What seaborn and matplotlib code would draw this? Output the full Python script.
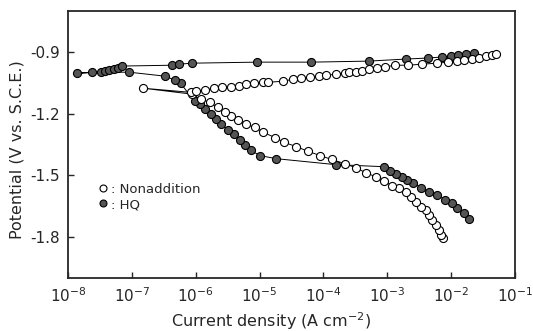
import numpy as np
import pandas as pd
import matplotlib
matplotlib.use("Agg")
import matplotlib.pyplot as plt
from matplotlib.lines import Line2D
from matplotlib.ticker import FixedLocator, FixedFormatter, NullLocator
import seaborn as sns

# ---- data ----
# Nonaddition: starting point, then cathodic and anodic branches outward from it
open_start_i = [1.5e-7]
open_start_E = [-1.076]
open_cath_i = [8.9e-7, 1.2e-6, 1.66e-6, 2.22e-6, 2.86e-6, 3.56e-6, 4.6e-6, 6.1e-6, 8.5e-6,
               1.14e-5, 1.75e-5, 2.43e-5, 3.76e-5, 5.8e-5, 8.97e-5, 1.34e-4, 2.14e-4, 3.2e-4,
               4.58e-4, 6.6e-4, 8.8e-4, 1.18e-3, 1.52e-3, 1.95e-3, 2.34e-3, 2.81e-3, 3.37e-3,
               4.04e-3, 4.5e-3, 5.0e-3, 5.8e-3, 6.5e-3, 7.0e-3, 7.5e-3]
open_cath_E = [-1.105, -1.130, -1.145, -1.169, -1.194, -1.213, -1.233, -1.252, -1.267,
               -1.291, -1.316, -1.340, -1.360, -1.384, -1.404, -1.423, -1.443, -1.463,
               -1.487, -1.507, -1.526, -1.551, -1.560, -1.580, -1.604, -1.629, -1.653,
               -1.668, -1.693, -1.717, -1.741, -1.766, -1.790, -1.805]
open_anod_i = [8.3e-7, 1.0e-6, 1.39e-6, 1.92e-6, 2.57e-6, 3.56e-6, 4.75e-6, 6.1e-6, 8.2e-6,
               1.14e-5, 1.36e-5, 2.34e-5, 3.37e-5, 4.5e-5, 6.2e-5, 8.65e-5, 1.11e-4, 1.55e-4,
               2.14e-4, 2.48e-4, 3.2e-4, 3.96e-4, 5.1e-4, 6.8e-4, 9.1e-4, 1.31e-3, 2.1e-3,
               3.5e-3, 6.0e-3, 9.0e-3, 1.24e-2, 1.6e-2, 2.14e-2, 2.76e-2, 3.56e-2, 4.4e-2, 5.1e-2]
open_anod_E = [-1.096, -1.091, -1.086, -1.076, -1.071, -1.071, -1.066, -1.057, -1.052,
               -1.047, -1.047, -1.042, -1.032, -1.027, -1.022, -1.017, -1.013, -1.008,
               -1.003, -0.998, -0.998, -0.993, -0.983, -0.978, -0.973, -0.964, -0.964,
               -0.959, -0.954, -0.949, -0.944, -0.939, -0.934, -0.929, -0.920, -0.915, -0.910]

# HQ: lower (cathodic) branch from the leftmost point, then upper (anodic) branch
hq_low_i = [1.39e-8, 2.4e-8, 9.1e-8, 3.25e-7, 4.8e-7, 5.8e-7, 9.6e-7, 1.16e-6, 1.39e-6,
            1.72e-6, 2.07e-6, 2.48e-6, 3.2e-6, 3.96e-6, 4.9e-6, 5.9e-6, 7.3e-6, 1.02e-5,
            1.82e-5, 1.55e-4, 8.8e-4, 1.09e-3, 1.36e-3, 1.69e-3, 2.03e-3, 2.52e-3, 3.37e-3,
            4.5e-3, 6.0e-3, 8.05e-3, 1.04e-2, 1.24e-2, 1.6e-2, 1.92e-2]
hq_low_E = [-1.003, -0.998, -0.998, -1.017, -1.037, -1.052, -1.140, -1.154, -1.179,
            -1.203, -1.228, -1.252, -1.277, -1.301, -1.326, -1.350, -1.379, -1.404,
            -1.419, -1.448, -1.458, -1.477, -1.492, -1.507, -1.521, -1.536, -1.560,
            -1.580, -1.595, -1.619, -1.634, -1.658, -1.683, -1.712]
hq_up_i = [3.3e-8, 3.8e-8, 4.4e-8, 5.3e-8, 6.1e-8, 7.1e-8, 4.3e-7, 5.4e-7, 8.9e-7, 9.1e-6,
           6.5e-5, 5.1e-4, 1.95e-3, 4.3e-3, 7.2e-3, 1.0e-2, 1.29e-2, 1.72e-2, 2.3e-2]
hq_up_E = [-0.998, -0.993, -0.988, -0.983, -0.978, -0.968, -0.964, -0.959, -0.954, -0.949,
           -0.949, -0.944, -0.934, -0.929, -0.924, -0.920, -0.915, -0.910, -0.905]

yticks = [-0.9, -1.2, -1.5, -1.8]
ytick_labels = ["-0.9", "-1.2", "-1.5", "-1.8"]
xticks = [1e-8, 1e-7, 1e-6, 1e-5, 1e-4, 1e-3, 1e-2, 1e-1]
xtick_labels = [r"$10^{-8}$", r"$10^{-7}$", r"$10^{-6}$", r"$10^{-5}$",
                r"$10^{-4}$", r"$10^{-3}$", r"$10^{-2}$", r"$10^{-1}$"]

# ---- build ordered paths ----
open_df = pd.DataFrame({
    "i": list(reversed(open_cath_i)) + open_start_i + open_anod_i,
    "E": list(reversed(open_cath_E)) + open_start_E + open_anod_E,
})
hq_df = pd.DataFrame({
    "i": list(reversed(hq_low_i)) + hq_up_i,
    "E": list(reversed(hq_low_E)) + hq_up_E,
})

sns.set_style("ticks")
plt.rcParams["font.family"] = ["DejaVu Sans"]

fig = plt.figure(figsize=(5.33, 3.31), dpi=100)
ax = fig.add_axes([68 / 533, 1 - 278 / 331, (515 - 68) / 533, (278 - 11) / 331])

ms = 5.8
sns.lineplot(data=hq_df, x="i", y="E", sort=False, estimator=None, ax=ax,
             color="black", linewidth=0.7, marker="o", markersize=ms,
             markerfacecolor="#555555", markeredgecolor="black", markeredgewidth=0.8)
sns.lineplot(data=open_df, x="i", y="E", sort=False, estimator=None, ax=ax,
             color="black", linewidth=0.7, marker="o", markersize=ms,
             markerfacecolor="white", markeredgecolor="black", markeredgewidth=0.8)

ax.set_xscale("log")
ax.set_xlim(1e-8, 1e-1)
ax.set_ylim(-2.0, -0.7)
ax.xaxis.set_major_locator(FixedLocator(xticks))
ax.xaxis.set_major_formatter(FixedFormatter(xtick_labels))
ax.xaxis.set_minor_locator(NullLocator())
ax.yaxis.set_major_locator(FixedLocator(yticks))
ax.yaxis.set_major_formatter(FixedFormatter(ytick_labels))
ax.tick_params(direction="in", length=4, width=1.0, labelsize=11, pad=6)
for s in ax.spines.values():
    s.set_linewidth(1.3)

ax.set_xlabel("Current density (A cm$^{-2}$)", fontsize=11.5)
ax.set_ylabel("Potential (V vs. S.C.E.)", fontsize=11.5)
ax.xaxis.set_label_coords(0.455, -0.12)
ax.yaxis.set_label_coords(-0.098, 0.48)

handles = [
    Line2D([], [], linestyle="none", marker="o", markersize=5, markerfacecolor="white",
           markeredgecolor="black", markeredgewidth=0.8),
    Line2D([], [], linestyle="none", marker="o", markersize=5, markerfacecolor="#555555",
           markeredgecolor="black", markeredgewidth=0.8),
]
ax.legend(handles, [": Nonaddition", ": HQ"], loc="upper left",
          bbox_to_anchor=(0.045, 0.39), frameon=False, fontsize=9.5,
          handlelength=0.8, handletextpad=0.2, labelspacing=0.15, borderpad=0.2)

fig.savefig("out.png", dpi=100)
